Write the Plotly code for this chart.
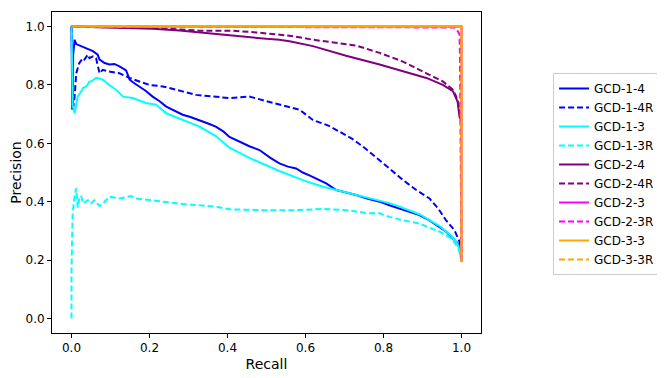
import plotly.graph_objects as go

# precision / recall points
r_gcd14 = [0, 0.002, 0.004, 0.008, 0.012, 0.016, 0.025, 0.038, 0.055, 0.067, 0.072, 0.085, 0.097, 0.11,
           0.123, 0.14, 0.149, 0.162, 0.174, 0.19, 0.208, 0.225, 0.243, 0.265, 0.285, 0.305, 0.328, 0.35,
           0.37, 0.39, 0.405, 0.43, 0.456, 0.482, 0.51, 0.533, 0.555, 0.576, 0.593, 0.61, 0.63, 0.653,
           0.679, 0.705, 0.73, 0.76, 0.79, 0.815, 0.841, 0.866, 0.892, 0.918, 0.944, 0.96, 0.974, 0.985,
           0.99, 0.995, 1.0]
p_gcd14 = [1.0, 0.715, 0.9, 0.955, 0.94, 0.938, 0.933, 0.927, 0.916, 0.904, 0.887, 0.875, 0.87, 0.872,
           0.864, 0.85, 0.818, 0.805, 0.795, 0.78, 0.76, 0.745, 0.726, 0.71, 0.698, 0.69, 0.68, 0.668,
           0.657, 0.64, 0.622, 0.605, 0.59, 0.577, 0.55, 0.531, 0.52, 0.514, 0.5, 0.49, 0.478, 0.463,
           0.44, 0.432, 0.423, 0.41, 0.40, 0.388, 0.377, 0.366, 0.354, 0.336, 0.314, 0.298, 0.28, 0.265,
           0.257, 0.24, 0.22]

r_gcd14r = [0, 0.004, 0.008, 0.012, 0.02, 0.029, 0.033, 0.042, 0.046, 0.055, 0.063, 0.067, 0.072, 0.08,
            0.1, 0.123, 0.149, 0.174, 0.2, 0.234, 0.26, 0.285, 0.32, 0.37, 0.405, 0.456, 0.5, 0.54, 0.585,
            0.619, 0.66, 0.687, 0.72, 0.747, 0.79, 0.815, 0.85, 0.884, 0.918, 0.94, 0.96, 0.982, 0.995, 1.0]
p_gcd14r = [1.0, 0.72, 0.76, 0.84, 0.875, 0.892, 0.887, 0.904, 0.892, 0.898, 0.892, 0.87, 0.84, 0.852,
            0.845, 0.84, 0.824, 0.812, 0.80, 0.795, 0.785, 0.778, 0.766, 0.76, 0.755, 0.76, 0.745, 0.73,
            0.715, 0.68, 0.66, 0.64, 0.615, 0.589, 0.543, 0.514, 0.474, 0.44, 0.411, 0.377, 0.337, 0.302,
            0.262, 0.228]

r_gcd13 = [0, 0.003, 0.008, 0.016, 0.025, 0.029, 0.038, 0.046, 0.05, 0.063, 0.067, 0.08, 0.097, 0.115,
           0.132, 0.157, 0.191, 0.217, 0.243, 0.285, 0.328, 0.37, 0.397, 0.405, 0.456, 0.5, 0.533, 0.593,
           0.645, 0.679, 0.747, 0.79, 0.815, 0.841, 0.892, 0.944, 0.974, 0.99, 0.995, 1.0]
p_gcd13 = [1.0, 0.73, 0.703, 0.76, 0.778, 0.789, 0.795, 0.812, 0.812, 0.824, 0.824, 0.818, 0.80, 0.783,
           0.76, 0.755, 0.738, 0.732, 0.703, 0.68, 0.657, 0.625, 0.595, 0.585, 0.55, 0.525, 0.505, 0.474,
           0.451, 0.44, 0.417, 0.405, 0.395, 0.383, 0.357, 0.316, 0.283, 0.255, 0.235, 0.193]

r_gcd13r = [0, 0.0, 0.002, 0.003, 0.008, 0.012, 0.016, 0.02, 0.025, 0.029, 0.042, 0.05, 0.059, 0.072,
            0.085, 0.097, 0.123, 0.153, 0.166, 0.2, 0.243, 0.285, 0.328, 0.37, 0.405, 0.49, 0.576, 0.645,
            0.704, 0.764, 0.79, 0.815, 0.841, 0.892, 0.944, 0.974, 0.99, 0.997, 1.0]
p_gcd13r = [0.0, 0.165, 0.30, 0.36, 0.42, 0.446, 0.38, 0.41, 0.42, 0.394, 0.405, 0.394, 0.405, 0.385,
            0.40, 0.417, 0.411, 0.419, 0.411, 0.405, 0.40, 0.392, 0.388, 0.383, 0.374, 0.371, 0.371, 0.375,
            0.371, 0.36, 0.36, 0.348, 0.339, 0.325, 0.297, 0.274, 0.245, 0.22, 0.2]

r_gcd24 = [0, 0.11, 0.208, 0.277, 0.328, 0.413, 0.5, 0.533, 0.559, 0.619, 0.704, 0.79, 0.85, 0.91,
           0.952, 0.978, 0.99, 0.995, 1.0]
p_gcd24 = [1.0, 0.995, 0.993, 0.987, 0.98, 0.969, 0.958, 0.955, 0.95, 0.933, 0.90, 0.87, 0.847, 0.824,
           0.80, 0.779, 0.743, 0.69, 0.68]

r_gcd24r = [0, 0.22, 0.328, 0.413, 0.473, 0.533, 0.559, 0.619, 0.73, 0.79, 0.85, 0.91, 0.952, 0.978,
            0.99, 0.997, 1.0]
p_gcd24r = [1.0, 0.995, 0.986, 0.986, 0.98, 0.973, 0.969, 0.955, 0.935, 0.91, 0.88, 0.84, 0.812, 0.784,
            0.75, 0.69, 0.66]

r_gcd23 = [0, 1.0, 1.0]
p_gcd23 = [1.0, 1.0, 0.193]

r_gcd23r = [0, 0.982, 0.99, 0.995, 0.996, 0.997, 1.0]
p_gcd23r = [1.0, 0.997, 0.985, 0.973, 0.9, 0.7, 0.2]

r_gcd33 = [0, 1.0, 1.0]
p_gcd33 = [1.0, 1.0, 0.193]

r_gcd33r = [0, 1.0, 1.0]
p_gcd33r = [1.0, 1.0, 0.193]

tick_vals = [0.0, 0.2, 0.4, 0.6, 0.8, 1.0]
tick_text = ['0.0', '0.2', '0.4', '0.6', '0.8', '1.0']


def make_chart() -> go.Figure:
    series = [
        ('GCD-1-4', r_gcd14, p_gcd14, '#0000ff', 'solid'),
        ('GCD-1-4R', r_gcd14r, p_gcd14r, '#0000ff', '6px,3px'),
        ('GCD-1-3', r_gcd13, p_gcd13, '#00ffff', 'solid'),
        ('GCD-1-3R', r_gcd13r, p_gcd13r, '#00ffff', '6px,3px'),
        ('GCD-2-4', r_gcd24, p_gcd24, '#800080', 'solid'),
        ('GCD-2-4R', r_gcd24r, p_gcd24r, '#800080', '6px,3px'),
        ('GCD-2-3', r_gcd23, p_gcd23, '#ff00ff', 'solid'),
        ('GCD-2-3R', r_gcd23r, p_gcd23r, '#ff00ff', '6px,3px'),
        ('GCD-3-3', r_gcd33, p_gcd33, '#ffa500', 'solid'),
        ('GCD-3-3R', r_gcd33r, p_gcd33r, '#ffa500', '6px,3px'),
    ]

    fig = go.Figure()
    for name, r, p, color, dash in series:
        fig.add_trace(go.Scatter(x=r, y=p, mode='lines', name=name,
                                 line=dict(color=color, width=2, dash=dash)))

    # page body has an 8px margin, so shift the plot area up/left by 8px
    # -> on screen the axes box spans x 52..481, y 12..333
    fig.update_layout(
        width=665, height=378,
        paper_bgcolor='white', plot_bgcolor='white',
        margin=dict(l=44, r=192, t=4, b=53, autoexpand=False),
        font=dict(family='DejaVu Sans', size=12, color='black'),
        showlegend=True,
        legend=dict(
            x=1.168, y=0.81, xanchor='left', yanchor='top',
            bgcolor='white', bordercolor='#cccccc', borderwidth=1,
            font=dict(size=12), itemwidth=30,
        ),
    )

    axis_style = dict(
        showline=True, linecolor='black', linewidth=1, mirror=True,
        ticks='outside', ticklen=4, tickwidth=1, tickcolor='black',
        showgrid=False, zeroline=False,
        tickvals=tick_vals, ticktext=tick_text, range=[-0.05, 1.05],
    )
    fig.update_xaxes(title_text='Recall', title_standoff=4, **axis_style)
    fig.update_yaxes(title_text='Precision', title_standoff=6, **axis_style)
    return fig


def main():
    fig = make_chart()
    fig.write_html("out.html")


if __name__ == "__main__":
    main()
